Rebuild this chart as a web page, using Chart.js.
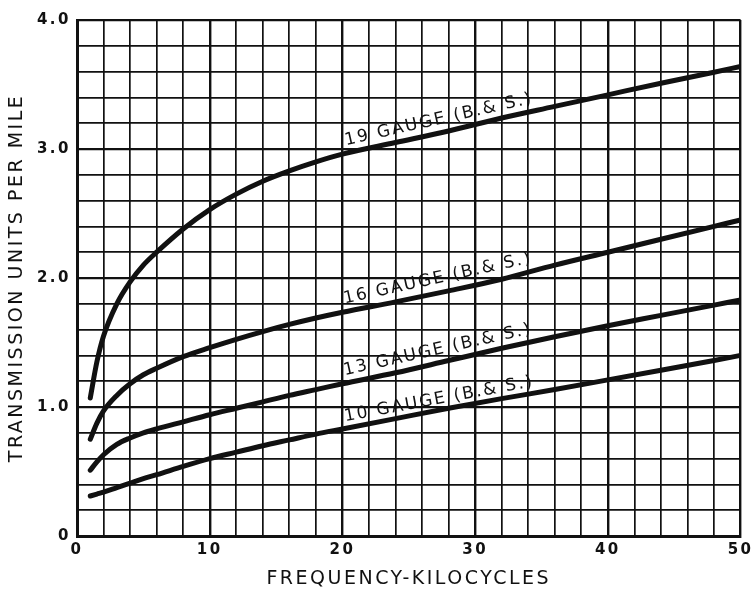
<!DOCTYPE html>
<html>
<head>
<meta charset="utf-8">
<script src="https://cdn.jsdelivr.net/npm/chart.js@4/dist/chart.umd.min.js"></script>
<style>
html,body{margin:0;padding:0;background:#fff;}
canvas{display:block;}
</style>
</head>
<body>
<canvas id="c" width="756" height="593" style="width:756px;height:593px"></canvas>
<script>
// ---- data ----
const freqKc = [1, 1.5, 2, 3, 4, 5, 6, 8, 10, 12, 14, 16, 18, 20, 24, 28, 32, 36, 40, 44, 48, 50];
const gauge19 = [1.07, 1.35, 1.55, 1.80, 1.97, 2.10, 2.20, 2.38, 2.53, 2.65, 2.75, 2.83, 2.90, 2.96, 3.05, 3.14, 3.24, 3.33, 3.42, 3.51, 3.595, 3.64];
const gauge16 = [0.75, 0.875, 0.97, 1.09, 1.18, 1.25, 1.30, 1.39, 1.46, 1.525, 1.585, 1.64, 1.69, 1.735, 1.815, 1.90, 1.99, 2.10, 2.20, 2.30, 2.40, 2.45];
const gauge13 = [0.51, 0.575, 0.63, 0.71, 0.76, 0.80, 0.83, 0.885, 0.94, 0.99, 1.04, 1.09, 1.135, 1.18, 1.265, 1.36, 1.455, 1.545, 1.63, 1.71, 1.79, 1.83];
const gauge10 = [0.31, 0.325, 0.34, 0.375, 0.41, 0.445, 0.475, 0.54, 0.60, 0.65, 0.70, 0.745, 0.79, 0.83, 0.91, 0.99, 1.065, 1.135, 1.21, 1.285, 1.36, 1.40];
const seriesNames = ['19 GAUGE (B.& S.)', '16 GAUGE (B.& S.)', '13 GAUGE (B.& S.)', '10 GAUGE (B.& S.)'];
const xTickLabels = ['0', '10', '20', '30', '40', '50'];
const yTickLabels = ['0', '1.0', '2.0', '3.0', '4.0'];
const xTitle = 'FREQUENCY-KILOCYCLES';
const yTitle = 'TRANSMISSION UNITS PER MILE';

const seriesValues = [gauge19, gauge16, gauge13, gauge10];
const INK = '#111';
const FONT = '"DejaVu Sans", "Noto Sans", sans-serif';

function toPoints(vals){ return freqKc.map((x,i)=>({x:x, y:vals[i]})); }

function valueAt(vals, x){
  for (let i=0;i<freqKc.length-1;i++){
    if (x>=freqKc[i] && x<=freqKc[i+1]){
      const t=(x-freqKc[i])/(freqKc[i+1]-freqKc[i]);
      return vals[i]+t*(vals[i+1]-vals[i]);
    }
  }
  return vals[vals.length-1];
}

// label placement along each curve (start/end frequency used for the baseline direction)
const labelPlacement = [
  {from: 20.4, to: 34.5, lift: 8},
  {from: 20.3, to: 35.0, lift: 8},
  {from: 20.3, to: 35.0, lift: 8},
  {from: 20.3, to: 35.5, lift: 7}
];

// wide hand-lettered look: spacing for all text drawn on the canvas
const spacingPlugin = {
  id: 'spacing',
  beforeDraw(chart){ try { chart.ctx.letterSpacing = '2.5px'; } catch(e) {} }
};

const curveLabelPlugin = {
  id: 'curveLabels',
  afterDatasetsDraw(chart){
    const ctx = chart.ctx;
    const xs = chart.scales.x, ys = chart.scales.y;
    seriesNames.forEach((name, i)=>{
      const p = labelPlacement[i];
      const vals = seriesValues[i];
      const x1 = xs.getPixelForValue(p.from), y1 = ys.getPixelForValue(valueAt(vals, p.from));
      const x2 = xs.getPixelForValue(p.to), y2 = ys.getPixelForValue(valueAt(vals, p.to));
      const ang = Math.atan2(y2-y1, x2-x1);
      ctx.save();
      ctx.translate(x1, y1);
      ctx.rotate(ang);
      ctx.font = '17px ' + FONT;
      try { ctx.letterSpacing = '2px'; } catch(e) {}
      ctx.fillStyle = INK;
      ctx.textAlign = 'left';
      ctx.textBaseline = 'alphabetic';
      ctx.fillText(name, 0, -p.lift);
      ctx.restore();
    });
  }
};

function isMultiple(v, step){ return Math.abs(v/step - Math.round(v/step)) < 1e-6; }

new Chart(document.getElementById('c'), {
  type: 'line',
  data: {
    datasets: seriesValues.map((vals, i)=>({
      label: seriesNames[i],
      data: toPoints(vals),
      borderColor: INK,
      borderWidth: 5,
      pointRadius: 0,
      borderCapStyle: 'round',
      borderJoinStyle: 'round',
      cubicInterpolationMode: 'monotone',
      fill: false
    }))
  },
  options: {
    responsive: false,
    devicePixelRatio: 1,
    animation: false,
    layout: { padding: { left: 0, right: 15, top: 20, bottom: 0 } },
    plugins: { legend: { display: false }, tooltip: { enabled: false } },
    scales: {
      x: {
        type: 'linear', min: 0, max: 50,
        afterFit(s){ s.height = 57; },
        ticks: {
          stepSize: 2, autoSkip: false, maxRotation: 0, padding: 5,
          color: INK, font: { family: FONT, size: 15, weight: 'bold' },
          callback(v){ return isMultiple(v,10) ? xTickLabels[Math.round(v/10)] : ''; }
        },
        grid: {
          color: INK, drawTicks: false,
          lineWidth(c){ const v = c.tick ? c.tick.value : 0; return (isMultiple(v,10)) ? 2.4 : 1.7; }
        },
        border: { color: INK, width: 3 },
        title: {
          display: true, text: xTitle, color: INK,
          font: { family: FONT, size: 19 }, padding: { top: 0, bottom: 3 }
        }
      },
      y: {
        type: 'linear', min: 0, max: 4,
        afterFit(s){ s.width = 77; },
        ticks: {
          stepSize: 0.2, autoSkip: false, padding: 6,
          color: INK, font: { family: FONT, size: 15, weight: 'bold' },
          callback(v){ return isMultiple(v,1) ? yTickLabels[Math.round(v)] : ''; }
        },
        grid: {
          color: INK, drawTicks: false,
          lineWidth(c){ const v = c.tick ? c.tick.value : 0; return (isMultiple(v,1)) ? 2.2 : 1.7; }
        },
        border: { color: INK, width: 3 },
        title: {
          display: true, text: yTitle, color: INK,
          font: { family: FONT, size: 19 }, padding: { top: 6, bottom: 0 }
        }
      }
    }
  },
  plugins: [spacingPlugin, curveLabelPlugin]
});
</script>
</body>
</html>
